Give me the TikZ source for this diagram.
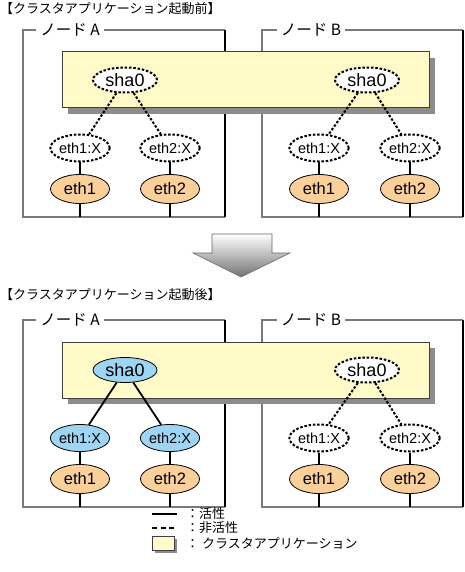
\documentclass[tikz,border=0pt]{standalone}
\usepackage{fontspec}
\setmainfont{Liberation Sans}
\newfontfamily\jpfont{Noto Sans CJK JP}
\usetikzlibrary{shapes.geometric, positioning, calc}
\definecolor{appyellow}{HTML}{FFFAC8}
\definecolor{ifblue}{HTML}{9DD5F3}
\definecolor{nicorange}{HTML}{F9CF9A}
\definecolor{framegray}{HTML}{7A7A7A}
\definecolor{shadowgray}{HTML}{8C8C8C}

\begin{document}
\begin{tikzpicture}[x=1pt, y=-1pt, font=\fontsize{13}{15}\selectfont,
    nodeframe/.style={draw=framegray, line width=1.3pt},
    framelabel/.style={fill=white, inner xsep=4pt, inner ysep=1pt, font=\jpfont\fontsize{15.5}{17}\selectfont},
    title/.style={anchor=west, inner sep=0pt, font=\jpfont\fontsize{13}{15}\selectfont},
    appbox/.style={draw=black!75, line width=1pt, fill=appyellow},
    appshadow/.style={fill=shadowgray},
    ifbase/.style={ellipse, draw, inner sep=0pt},
    shaoff/.style={ifbase, dash pattern=on 2.5pt off 1.8pt, line width=2pt, fill=white,
      minimum width=64pt, minimum height=25pt, font=\fontsize{18}{20}\selectfont},
    shaon/.style={ifbase, line width=0.8pt, fill=ifblue,
      minimum width=64pt, minimum height=25pt, font=\fontsize{18}{20}\selectfont},
    vipoff/.style={ifbase, dash pattern=on 2.5pt off 1.8pt, line width=2pt, fill=white,
      minimum width=59pt, minimum height=27pt, font=\fontsize{14.5}{16}\selectfont},
    vipon/.style={ifbase, line width=0.8pt, fill=ifblue, minimum width=59pt, minimum height=27pt,
      font=\fontsize{14.5}{16}\selectfont},
    nic/.style={ifbase, line width=0.8pt, fill=nicorange, minimum width=59pt, minimum height=29pt,
      font=\fontsize{16.5}{18}\selectfont},
    offlink/.style={draw, line width=2pt, dash pattern=on 2.5pt off 1.8pt},
    onlink/.style={draw, line width=1.8pt},
    legend/.style={anchor=west, inner sep=0pt, font=\jpfont\fontsize{13}{15}\selectfont}]

    \useasboundingbox (0,0) rectangle (464,572);

    % before start
    \node (titlepre) [title] at (0,9) {【クラスタアプリケーション起動前】};

    \draw [nodeframe] (225,30) -- (23,30) -- (23,217) -- (225,217);
    \draw [line width=1.3pt] (225,30) -- (225,217);
    \draw [nodeframe] (463,30) -- (262,30) -- (262,217) -- (463,217);
    \draw [line width=1.3pt] (463,30) -- (463,217);
    \node (labApre) [framelabel] at (70,30) {ノード A};
    \node (labBpre) [framelabel] at (311,30) {ノード B};

    \fill [appshadow] (68,58) rectangle (435,114);
    \draw [appbox] (62,52) rectangle (429,108);

    \coordinate (botpre) at (0,217);
    \node (shaApre) [shaoff] at (125,80) {sha0};
    \node (shaBpre) [shaoff] at (367,80) {sha0};
    \node (vipA1pre) [vipoff] at (80,148) {eth1:X};
    \node (vipA2pre) [vipoff] at (170,148) {eth2:X};
    \node (vipB1pre) [vipoff] at (319,148) {eth1:X};
    \node (vipB2pre) [vipoff] at (410,148) {eth2:X};
    \node (nicA1pre) [nic] at (80,189) {eth1};
    \node (nicA2pre) [nic] at (170,189) {eth2};
    \node (nicB1pre) [nic] at (319,189) {eth1};
    \node (nicB2pre) [nic] at (410,189) {eth2};

    \draw [offlink] (shaApre) -- (vipA1pre);
    \draw [offlink] (shaApre) -- (vipA2pre);
    \draw [offlink] (shaBpre) -- (vipB1pre);
    \draw [offlink] (shaBpre) -- (vipB2pre);
    \foreach \n in {A1, A2, B1, B2} {
      \draw [onlink] (vip\n pre) -- (nic\n pre);
      \draw [onlink] (nic\n pre.south) -- (nic\n pre.south |- botpre);
    }

    % transition arrow
    \shadedraw [top color=white, bottom color=black!55, draw=black!60, line width=0.6pt]
      (212,234) -- (272,234) -- (272,253) -- (290,253) -- (241,277) -- (193,253) -- (212,253) -- cycle;

    % after start
    \node (titlepost) [title] at (0,295) {【クラスタアプリケーション起動後】};

    \draw [nodeframe] (225,320) -- (23,320) -- (23,507) -- (225,507);
    \draw [line width=1.3pt] (225,320) -- (225,507);
    \draw [nodeframe] (463,320) -- (262,320) -- (262,507) -- (463,507);
    \draw [line width=1.3pt] (463,320) -- (463,507);
    \node (labApost) [framelabel] at (70,320) {ノード A};
    \node (labBpost) [framelabel] at (311,320) {ノード B};

    \fill [appshadow] (68,348) rectangle (435,404);
    \draw [appbox] (62,342) rectangle (429,398);

    \coordinate (botpost) at (0,507);
    \node (shaApost) [shaon] at (125,370) {sha0};
    \node (shaBpost) [shaoff] at (367,370) {sha0};
    \node (vipA1post) [vipon] at (80,438) {eth1:X};
    \node (vipA2post) [vipon] at (170,438) {eth2:X};
    \node (vipB1post) [vipoff] at (319,438) {eth1:X};
    \node (vipB2post) [vipoff] at (410,438) {eth2:X};
    \node (nicA1post) [nic] at (80,479) {eth1};
    \node (nicA2post) [nic] at (170,479) {eth2};
    \node (nicB1post) [nic] at (319,479) {eth1};
    \node (nicB2post) [nic] at (410,479) {eth2};

    \draw [onlink] (shaApost) -- (vipA1post);
    \draw [onlink] (shaApost) -- (vipA2post);
    \draw [offlink] (shaBpost) -- (vipB1post);
    \draw [offlink] (shaBpost) -- (vipB2post);
    \foreach \n in {A1, A2, B1, B2} {
      \draw [onlink] (vip\n post) -- (nic\n post);
      \draw [onlink] (nic\n post.south) -- (nic\n post.south |- botpost);
    }

    % legend
    \draw [line width=1.8pt] (152,514) -- (177,514);
    \node (legon) [legend] at (186,514) {：活性};
    \draw [line width=1.8pt, dash pattern=on 5pt off 3.5pt] (152,528) -- (177,528);
    \node (legoff) [legend] at (186,528) {：非活性};
    \fill [appshadow] (155,539) rectangle (177,553);
    \draw [appbox, line width=0.8pt] (152,536) rectangle (174,550);
    \node (legapp) [legend] at (186,543) {： クラスタアプリケーション};
\end{tikzpicture}
\end{document}
